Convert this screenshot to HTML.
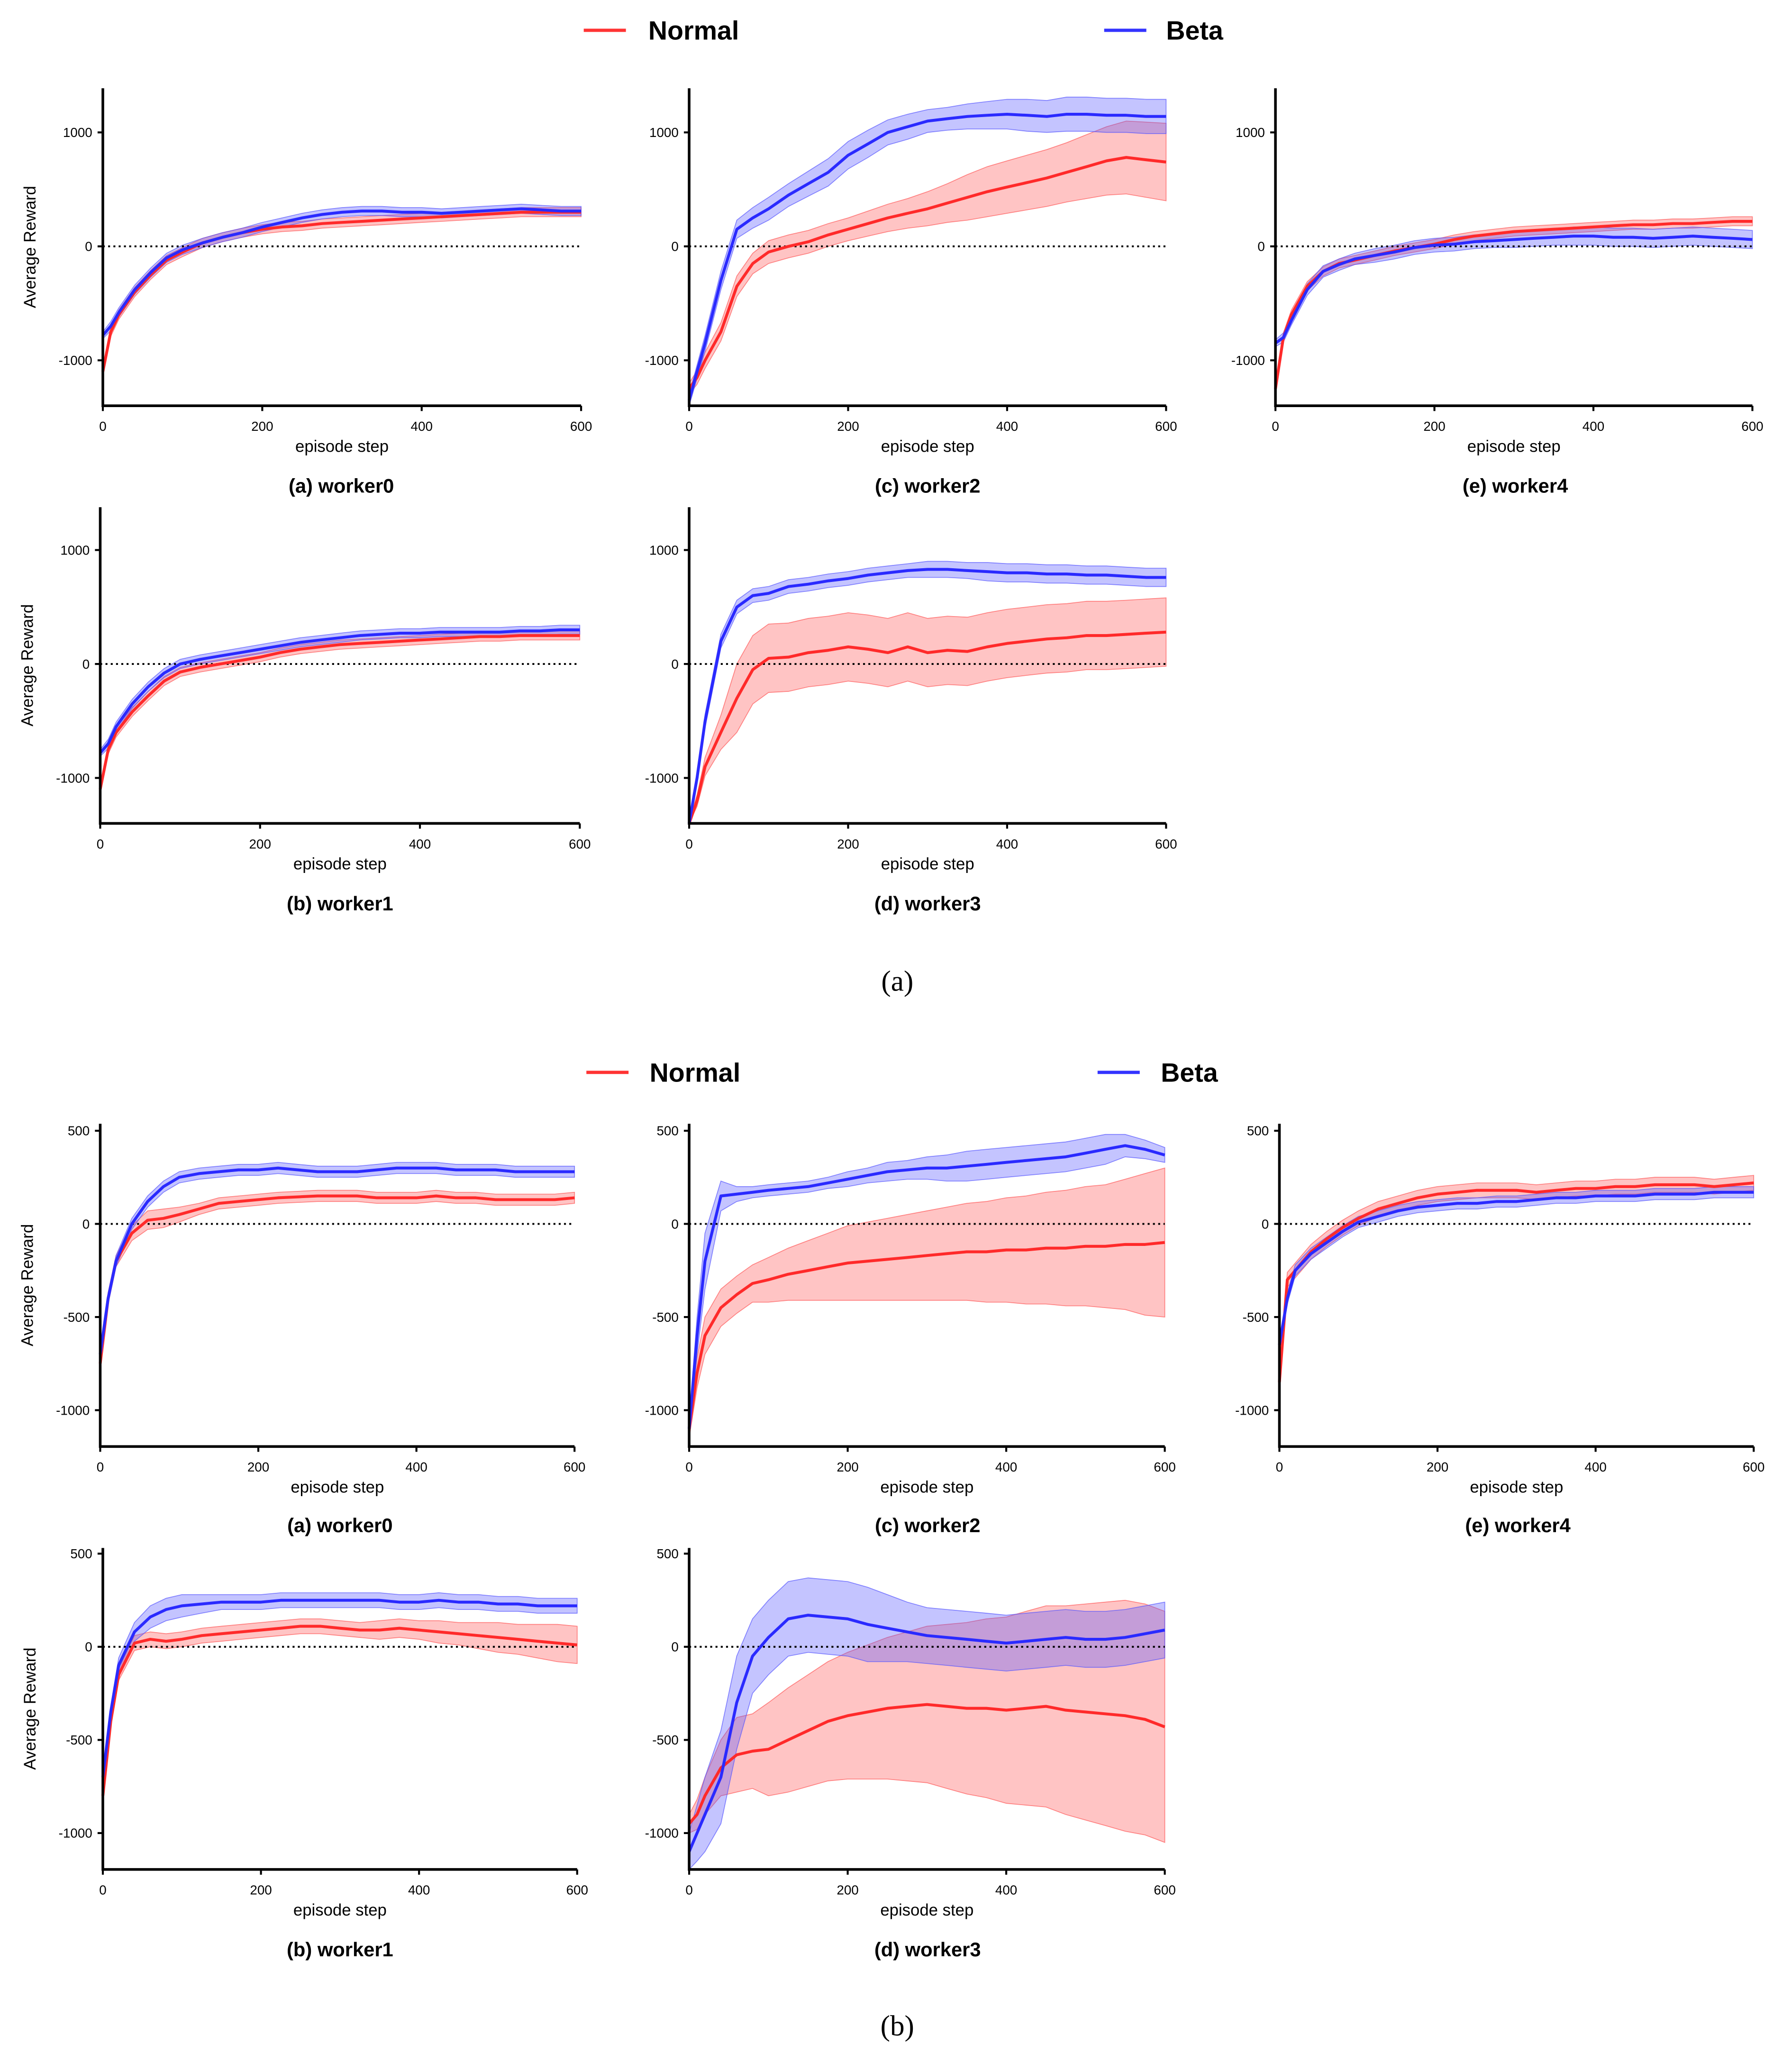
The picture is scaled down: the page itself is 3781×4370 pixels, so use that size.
<!DOCTYPE html>
<html><head><meta charset="utf-8"><style>
html,body{margin:0;padding:0;background:#fff}
svg{display:block}
text{font-family:"Liberation Sans",Arial,sans-serif}
text.serif{font-family:"Liberation Serif",serif}
</style></head><body>
<svg id="fig" width="3781" height="4370" viewBox="0 0 1360 1572" xmlns="http://www.w3.org/2000/svg"></svg>
<script>
const steps=[0,10,20,40,60,80,100,125,150,175,200,225,250,275,300,325,350,375,400,425,450,475,500,525,550,575,600];
const xTicks=[0,200,400,600];
const yTicksA=[-1000,0,1000];
const yTicksB=[-1000,-500,0,500];
// Figure (a)
const a_w0_normal=[-1100,-750,-600,-400,-250,-120,-50,30,80,120,150,170,180,200,210,220,230,240,250,260,270,280,290,300,300,300,300];
const a_w0_normal_sd=[30,40,40,40,40,40,40,40,40,40,40,40,40,40,40,40,40,40,40,40,40,40,40,40,40,40,40];
const a_w0_beta=[-780,-700,-580,-380,-230,-100,-30,30,80,120,170,210,250,280,300,310,310,300,300,290,300,310,320,330,320,310,310];
const a_w0_beta_sd=[30,40,40,40,40,40,40,40,40,40,40,40,40,40,40,40,40,40,40,40,40,40,40,40,40,40,40];
const a_w2_normal=[-1250,-1150,-1000,-750,-350,-150,-50,0,40,100,150,200,250,290,330,380,430,480,520,560,600,650,700,750,780,760,740];
const a_w2_normal_sd=[50,60,70,80,90,90,100,100,100,100,100,110,120,130,150,170,200,220,230,240,250,260,280,300,320,330,340];
const a_w2_beta=[-1350,-1100,-850,-300,150,250,330,450,550,650,800,900,1000,1050,1100,1120,1140,1150,1160,1150,1140,1160,1160,1150,1150,1140,1140];
const a_w2_beta_sd=[50,60,70,80,80,90,100,100,110,120,120,120,110,110,100,100,110,120,130,140,140,150,150,150,150,150,150];
const a_w4_normal=[-1250,-800,-600,-350,-220,-150,-120,-80,-40,-10,20,60,90,110,130,140,150,160,170,180,190,190,200,200,210,220,220];
const a_w4_normal_sd=[30,40,40,40,40,40,40,40,40,40,40,40,40,40,40,40,40,40,40,40,40,40,40,40,40,40,40];
const a_w4_beta=[-850,-800,-650,-380,-220,-160,-110,-80,-50,-10,10,20,40,50,60,70,80,90,90,80,80,70,80,90,80,70,60];
const a_w4_beta_sd=[30,40,40,50,50,50,50,60,60,60,60,60,60,60,70,70,70,80,80,80,80,80,80,80,80,80,80];
const a_w1_normal=[-1100,-750,-600,-420,-280,-150,-70,-30,0,30,60,100,130,150,170,180,190,200,210,220,230,240,240,250,250,250,250];
const a_w1_normal_sd=[30,40,40,40,40,40,40,40,40,40,40,40,40,40,40,40,40,40,40,40,40,40,40,40,40,40,40];
const a_w1_beta=[-780,-700,-550,-350,-200,-80,0,40,70,100,130,160,190,210,230,250,260,270,270,280,280,280,280,290,290,300,300];
const a_w1_beta_sd=[30,40,40,40,40,40,40,40,40,40,40,40,40,40,40,40,40,40,40,40,40,40,40,40,40,40,40];
const a_w3_normal=[-1400,-1200,-900,-600,-300,-50,50,60,100,120,150,130,100,150,100,120,110,150,180,200,220,230,250,250,260,270,280];
const a_w3_normal_sd=[30,50,80,150,300,300,300,300,300,300,300,300,300,300,300,300,300,300,300,300,300,300,300,300,300,300,300];
const a_w3_beta=[-1450,-1000,-500,200,500,600,620,680,700,730,750,780,800,820,830,830,820,810,800,800,790,790,780,780,770,760,760];
const a_w3_beta_sd=[40,50,60,60,60,60,60,60,60,60,60,60,60,60,70,70,70,80,80,80,80,80,80,80,80,80,80];
// Figure (b)
const b_w0_normal=[-750,-400,-200,-50,20,30,50,80,110,120,130,140,145,150,150,150,140,140,140,150,140,140,130,130,130,130,140];
const b_w0_normal_sd=[30,30,30,40,50,50,40,30,30,30,30,30,30,30,30,30,30,30,30,30,30,30,30,30,30,30,30];
const b_w0_beta=[-700,-400,-200,0,120,200,250,270,280,290,290,300,290,280,280,280,290,300,300,300,290,290,290,280,280,280,280];
const b_w0_beta_sd=[30,30,30,30,30,30,30,30,30,30,30,30,30,30,30,30,30,30,30,30,30,30,30,30,30,30,30];
const b_w2_normal=[-1100,-800,-600,-450,-380,-320,-300,-270,-250,-230,-210,-200,-190,-180,-170,-160,-150,-150,-140,-140,-130,-130,-120,-120,-110,-110,-100];
const b_w2_normal_sd=[50,80,100,100,100,100,120,140,160,180,200,210,220,230,240,250,260,270,280,290,300,310,320,330,350,380,400];
const b_w2_beta=[-1100,-600,-200,150,160,170,180,190,200,220,240,260,280,290,300,300,310,320,330,340,350,360,380,400,420,400,370];
const b_w2_beta_sd=[30,100,150,80,40,30,30,30,30,30,40,40,50,50,60,70,80,80,80,80,80,80,80,80,60,50,40];
const b_w4_normal=[-850,-300,-250,-150,-80,-20,30,80,110,140,160,170,180,180,180,170,180,190,190,200,200,210,210,210,200,210,220];
const b_w4_normal_sd=[40,40,40,40,40,40,40,40,40,40,40,40,40,40,40,40,40,40,40,40,40,40,40,40,40,40,40];
const b_w4_beta=[-650,-400,-250,-160,-100,-40,10,40,70,90,100,110,110,120,120,130,140,140,150,150,150,160,160,160,170,170,170];
const b_w4_beta_sd=[30,30,30,30,30,30,30,30,30,30,30,30,30,30,30,30,30,30,30,30,30,30,30,30,30,30,30];
const b_w1_normal=[-800,-400,-150,20,40,30,40,60,70,80,90,100,110,110,100,90,90,100,90,80,70,60,50,40,30,20,10];
const b_w1_normal_sd=[30,30,30,40,40,40,40,40,40,40,40,40,40,40,40,40,50,50,50,60,60,70,80,80,90,100,100];
const b_w1_beta=[-700,-350,-100,80,160,200,220,230,240,240,240,250,250,250,250,250,250,240,240,250,240,240,230,230,220,220,220];
const b_w1_beta_sd=[30,30,40,50,60,60,60,50,40,40,40,40,40,40,40,40,40,40,40,40,40,40,40,40,40,40,40];
const b_w3_normal=[-950,-900,-800,-650,-580,-560,-550,-500,-450,-400,-370,-350,-330,-320,-310,-320,-330,-330,-340,-330,-320,-340,-350,-360,-370,-390,-430];
const b_w3_normal_sd=[50,80,100,150,200,200,250,280,300,320,340,360,380,400,420,440,460,480,500,520,540,560,580,600,620,620,620];
const b_w3_beta=[-1100,-1000,-900,-700,-300,-50,50,150,170,160,150,120,100,80,60,50,40,30,20,30,40,50,40,40,50,70,90];
const b_w3_beta_sd=[100,150,200,250,250,200,200,200,200,200,200,200,180,160,150,150,150,150,150,150,150,150,150,150,150,150,150];

const NS="http://www.w3.org/2000/svg";
const svg=document.getElementById('fig');
function mk(tag,attrs,parent){const e=document.createElementNS(NS,tag);for(const k in attrs)e.setAttribute(k,attrs[k]);(parent||svg).appendChild(e);return e;}
function txt(s,attrs,parent){const t=mk('text',attrs,parent);t.textContent=s;return t;}

const panels=[
 {id:'a-worker0',cap:'(a) worker0',x0:78,x1:441,yTop:67,yBot:308,v0:187,pxPer:0.0865,ticks:yTicksA,n:a_w0_normal,nsd:a_w0_normal_sd,b:a_w0_beta,bsd:a_w0_beta_sd,capY:369,capX:259},
 {id:'a-worker2',cap:'(c) worker2',x0:523,x1:885,yTop:67,yBot:308,v0:187,pxPer:0.0865,ticks:yTicksA,n:a_w2_normal,nsd:a_w2_normal_sd,b:a_w2_beta,bsd:a_w2_beta_sd,capY:369,capX:704},
 {id:'a-worker4',cap:'(e) worker4',x0:968,x1:1330,yTop:67,yBot:308,v0:187,pxPer:0.0865,ticks:yTicksA,n:a_w4_normal,nsd:a_w4_normal_sd,b:a_w4_beta,bsd:a_w4_beta_sd,capY:369,capX:1150},
 {id:'a-worker1',cap:'(b) worker1',x0:76,x1:440,yTop:385,yBot:625,v0:504,pxPer:0.0865,ticks:yTicksA,n:a_w1_normal,nsd:a_w1_normal_sd,b:a_w1_beta,bsd:a_w1_beta_sd,capY:686,capX:258},
 {id:'a-worker3',cap:'(d) worker3',x0:523,x1:885,yTop:385,yBot:625,v0:504,pxPer:0.0865,ticks:yTicksA,n:a_w3_normal,nsd:a_w3_normal_sd,b:a_w3_beta,bsd:a_w3_beta_sd,capY:686,capX:704},
 {id:'b-worker0',cap:'(a) worker0',x0:76,x1:436,yTop:853,yBot:1098,v0:929,pxPer:0.1414,ticks:yTicksB,n:b_w0_normal,nsd:b_w0_normal_sd,b:b_w0_beta,bsd:b_w0_beta_sd,capY:1158,capX:258},
 {id:'b-worker2',cap:'(c) worker2',x0:523,x1:884,yTop:853,yBot:1098,v0:929,pxPer:0.1414,ticks:yTicksB,n:b_w2_normal,nsd:b_w2_normal_sd,b:b_w2_beta,bsd:b_w2_beta_sd,capY:1158,capX:704},
 {id:'b-worker4',cap:'(e) worker4',x0:971,x1:1331,yTop:853,yBot:1098,v0:929,pxPer:0.1414,ticks:yTicksB,n:b_w4_normal,nsd:b_w4_normal_sd,b:b_w4_beta,bsd:b_w4_beta_sd,capY:1158,capX:1152},
 {id:'b-worker1',cap:'(b) worker1',x0:78,x1:438,yTop:1175,yBot:1419,v0:1250,pxPer:0.1414,ticks:yTicksB,n:b_w1_normal,nsd:b_w1_normal_sd,b:b_w1_beta,bsd:b_w1_beta_sd,capY:1480,capX:258},
 {id:'b-worker3',cap:'(d) worker3',x0:523,x1:884,yTop:1175,yBot:1419,v0:1250,pxPer:0.1414,ticks:yTicksB,n:b_w3_normal,nsd:b_w3_normal_sd,b:b_w3_beta,bsd:b_w3_beta_sd,capY:1480,capX:704},
];

function drawPanel(p){
  const g=mk('g',{});
  
  
  const xs=s=>p.x0+(s/600)*(p.x1-p.x0);
  const ys=v=>Math.max(p.yTop,Math.min(p.yBot,p.v0-v*p.pxPer));
  function band(m,sd,fill,name){
    let up=m.map((v,i)=>xs(steps[i]).toFixed(1)+','+ys(v+sd[i]).toFixed(1));
    let lo=m.map((v,i)=>xs(steps[i]).toFixed(1)+','+ys(v-sd[i]).toFixed(1)).reverse();
    const e=mk('polygon',{points:up.concat(lo).join(' '),fill:fill,'fill-opacity':0.35,stroke:fill,'stroke-width':0.6,'stroke-opacity':0.7},g);
    
    
  }
  function line(m,col,name){
    const e=mk('polyline',{points:m.map((v,i)=>xs(steps[i]).toFixed(1)+','+ys(v).toFixed(1)).join(' '),fill:'none',stroke:col,'stroke-width':2.2,'stroke-linejoin':'round'},g);
    
    
  }
  band(p.n,p.nsd,'#ff5555','normal-band');
  band(p.b,p.bsd,'#5555ff','beta-band');
  const zl=mk('line',{x1:p.x0,x2:p.x1,y1:p.v0,y2:p.v0,stroke:'#000','stroke-width':1.4,'stroke-dasharray':'1.5,2.5'},g);
  
  
  line(p.n,'#ff2a2a','normal-line');
  line(p.b,'#2a2aff','beta-line');
  const ax=mk('path',{d:`M${p.x0},${p.yTop} V${p.yBot} H${p.x1}`,fill:'none',stroke:'#000','stroke-width':2},g);
  
  
  p.ticks.forEach(t=>{
    const y=p.v0-t*p.pxPer;
    mk('line',{x1:p.x0-4,x2:p.x0,y1:y,y2:y,stroke:'#000','stroke-width':1.5},g);
    const tl=txt(String(t),{x:p.x0-8,y:y+3.5,'font-size':10,'text-anchor':'end'},g);
    
    
  });
  xTicks.forEach(t=>{
    const x=xs(t);
    mk('line',{x1:x,x2:x,y1:p.yBot,y2:p.yBot+4,stroke:'#000','stroke-width':1.5},g);
    const tl=txt(String(t),{x:x,y:p.yBot+19,'font-size':10,'text-anchor':'middle'},g);
    
    
  });
  const xl=txt('episode step',{x:(p.x0+p.x1)/2,y:p.yBot+35,'font-size':12.5,'text-anchor':'middle'},g);
  
  
  if(p.x0<200){
    const cy=(p.yTop+p.yBot)/2;
    const yl=txt('Average Reward',{x:0,y:0,'font-size':12.5,'text-anchor':'middle',transform:`translate(${p.x0-51},${cy}) rotate(-90)`},g);
    
    
  }
  const c=txt(p.cap,{x:p.capX,y:p.capY+5,'font-size':15,'font-weight':'bold','text-anchor':'middle'},g);
  
  
}
panels.forEach(drawPanel);

function legend(y,nx,bx,tnx,tbx){
  const g=mk('g',{});
  
  
  mk('line',{x1:nx,x2:nx+32,y1:y,y2:y,stroke:'#ff3333','stroke-width':2.5},g);
  const a=txt('Normal',{x:tnx,y:y+7,'font-size':20,'font-weight':'bold'},g);
  
  
  mk('line',{x1:bx,x2:bx+32,y1:y,y2:y,stroke:'#3333ff','stroke-width':2.5},g);
  const b=txt('Beta',{x:tbx,y:y+7,'font-size':20,'font-weight':'bold'},g);
  
  
}
legend(23,443,838,492,885);
legend(814,445,833,493,881);

const la=txt('(a)',{x:681,y:752,'font-size':22,'text-anchor':'middle','class':'serif'});


const lb=txt('(b)',{x:681,y:1545,'font-size':22,'text-anchor':'middle','class':'serif'});


</script>
</body></html>
